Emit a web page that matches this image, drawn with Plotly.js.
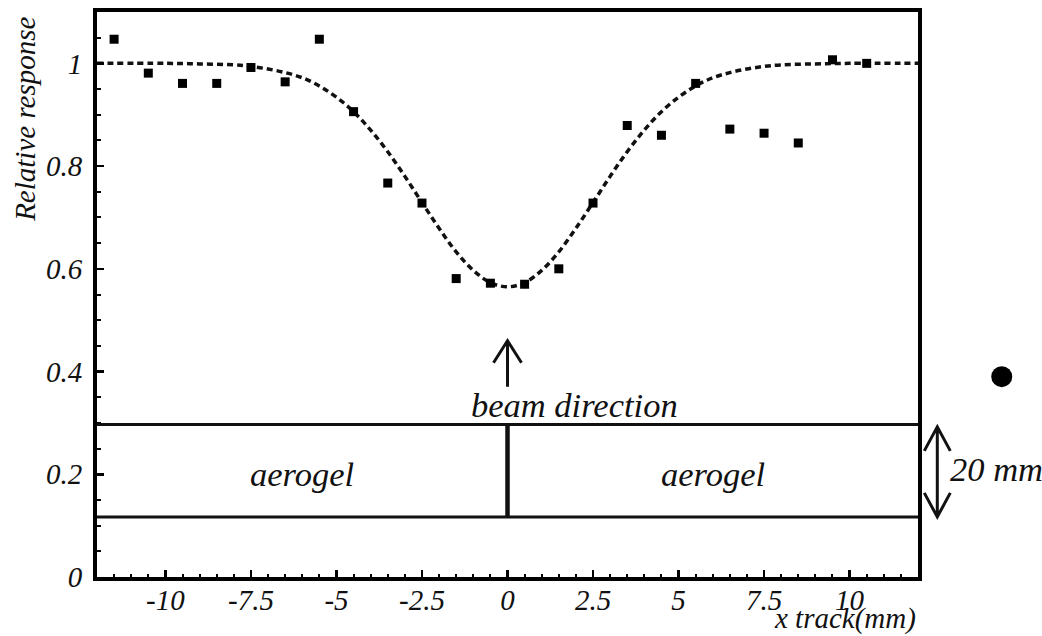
<!DOCTYPE html>
<html>
<head>
<meta charset="utf-8">
<script src="https://cdn.plot.ly/plotly-3.0.1.min.js"></script>
<style>html,body{margin:0;padding:0;background:#fff;}#chart{width:1042px;height:636px;}</style>
</head>
<body>
<div id="chart"></div>
<script>
// measured points (x track in mm, relative response)
const pointX = [-11.5, -10.5, -9.5, -8.5, -7.5, -6.5, -5.5, -4.5, -3.5, -2.5, -1.5, -0.5, 0.5, 1.5, 2.5, 3.5, 4.5, 5.5, 6.5, 7.5, 8.5, 9.5, 10.5];
const pointY = [1.047, 0.981, 0.961, 0.961, 0.992, 0.964, 1.047, 0.906, 0.767, 0.728, 0.581, 0.572, 0.570, 0.600, 0.728, 0.879, 0.860, 0.961, 0.872, 0.864, 0.845, 1.007, 1.000];

// dotted fit curve
const fitX = [-12, -10, -9, -8, -7.5, -7, -6.5, -6, -5.5, -5, -4.5, -4, -3.5, -3, -2.5, -2, -1.5, -1, -0.5, 0, 0.5, 1, 1.5, 2, 2.5, 3, 3.5, 4, 4.5, 5, 5.5, 6, 6.5, 7, 7.5, 8, 9, 10, 12];
const fitY = [1.0, 1.0, 0.999, 0.997, 0.994, 0.989, 0.982, 0.972, 0.956, 0.934, 0.906, 0.870, 0.828, 0.780, 0.729, 0.679, 0.633, 0.597, 0.573, 0.565, 0.573, 0.597, 0.633, 0.679, 0.729, 0.780, 0.828, 0.870, 0.906, 0.934, 0.956, 0.972, 0.982, 0.989, 0.994, 0.997, 0.999, 1.0, 1.0];

// tick labels
const xTickVals = [-10, -7.5, -5, -2.5, 0, 2.5, 5, 7.5, 10];
const xTickText = ['-10', '-7.5', '-5', '-2.5', '0', '2.5', '5', '7.5', '10'];
const yTickVals = [0, 0.2, 0.4, 0.6, 0.8, 1];
const yTickText = ['0', '0.2', '0.4', '0.6', '0.8', '1'];

// aerogel block (relative response units) and labels
const blockBottom = 0.117;
const blockTop = 0.297;
const beamArrowTip = 0.46;
const aerogelLabelX = [-6, 6];

const FONT = '"Liberation Serif", serif';
const INK = '#111';

const traces = [
  {
    x: fitX, y: fitY, type: 'scatter', mode: 'lines',
    line: {color: INK, width: 3.5, dash: '6px,4px', shape: 'spline', smoothing: 1},
    hoverinfo: 'skip', showlegend: false
  },
  {
    x: pointX, y: pointY, type: 'scatter', mode: 'markers',
    marker: {symbol: 'square', size: 9, color: '#000'},
    hoverinfo: 'skip', showlegend: false
  }
];

const lineStyle = {color: INK, width: 3};
const shapes = [
  {type: 'line', xref: 'paper', yref: 'y', x0: 0, x1: 1, y0: blockTop, y1: blockTop, line: lineStyle},
  {type: 'line', xref: 'paper', yref: 'y', x0: 0, x1: 1, y0: blockBottom, y1: blockBottom, line: lineStyle},
  {type: 'line', xref: 'x', yref: 'y', x0: 0, x1: 0, y0: blockBottom, y1: blockTop, line: {color: INK, width: 4.5}},
  // beam arrow (pixel-sized path anchored at the tip)
  {type: 'path', xref: 'x', yref: 'y', xsizemode: 'pixel', ysizemode: 'pixel',
   xanchor: 0, yanchor: beamArrowTip,
   path: 'M0,0 L0,-46 M-14,-22 L0,0 L14,-22', line: {color: INK, width: 3}},
  // 20 mm double arrow on the right
  {type: 'path', xref: 'paper', yref: 'y', xsizemode: 'pixel', ysizemode: 'pixel',
   xanchor: 1.0235, yanchor: blockBottom,
   path: 'M0,2 L0,88 M-13,66 L0,90 L13,66 M-13,24 L0,0 L13,24', line: {color: INK, width: 3}},
  // stray black dot
  {type: 'circle', xref: 'paper', yref: 'y', xsizemode: 'pixel', ysizemode: 'pixel',
   xanchor: 1.102, yanchor: 0.39, x0: -10.5, x1: 10.5, y0: -10.5, y1: 10.5,
   fillcolor: '#000', line: {width: 0}}
];

const textFont = {family: FONT, size: 34.5, color: INK, style: 'italic'};
const annotations = [
  {text: 'aerogel', x: aerogelLabelX[0], y: 0.2, xref: 'x', yref: 'y', showarrow: false, font: textFont, xanchor: 'center', yanchor: 'middle'},
  {text: 'aerogel', x: aerogelLabelX[1], y: 0.2, xref: 'x', yref: 'y', showarrow: false, font: textFont, xanchor: 'center', yanchor: 'middle'},
  {text: 'beam direction', x: 1.97, y: 0.334, xref: 'x', yref: 'y', showarrow: false, font: textFont, xanchor: 'center', yanchor: 'middle'},
  {text: '20 mm', x: 1.0365, y: 0.211, xref: 'paper', yref: 'y', showarrow: false, font: textFont, xanchor: 'left', yanchor: 'middle'},
  {text: 'Relative response', x: 0, xshift: -72, y: 0.89, xref: 'paper', yref: 'y', showarrow: false, textangle: -90,
   font: {family: FONT, size: 29, color: INK, style: 'italic'}, xanchor: 'center', yanchor: 'middle'},
  {text: 'x track(mm)', x: 1, y: -0.073, xref: 'paper', yref: 'paper', showarrow: false,
   font: {family: FONT, size: 29, color: INK, style: 'italic'}, xanchor: 'right', yanchor: 'middle'}
];

const axisCommon = {
  showgrid: false, zeroline: false, showline: true, mirror: true,
  linecolor: '#000', linewidth: 4,
  ticks: 'inside', ticklen: 7, tickwidth: 2.5, tickcolor: '#000',
  tickmode: 'array',
  tickfont: {family: FONT, size: 29, color: INK, style: 'italic'}
};

const layout = {
  width: 1042, height: 636,
  margin: {l: 97, r: 124, t: 12, b: 59},
  paper_bgcolor: '#fff', plot_bgcolor: '#fff',
  showlegend: false,
  font: {family: FONT},
  xaxis: Object.assign({}, axisCommon, {
    range: [-12, 12], tickvals: xTickVals, ticktext: xTickText,
    ticklabelstandoff: -6,
    minor: {tickmode: 'linear', tick0: 0, dtick: 0.5, ticks: 'inside', ticklen: 3.5, tickwidth: 2, tickcolor: '#000'}
  }),
  yaxis: Object.assign({}, axisCommon, {
    range: [0, 1.1], tickvals: yTickVals, ticktext: yTickText,
    ticklabelstandoff: 5,
    minor: {tickmode: 'linear', tick0: 0, dtick: 0.05, ticks: 'inside', ticklen: 3.5, tickwidth: 2, tickcolor: '#000'}
  }),
  shapes: shapes,
  annotations: annotations
};

Plotly.newPlot('chart', traces, layout, {displayModeBar: false, staticPlot: true});
</script>
</body>
</html>
